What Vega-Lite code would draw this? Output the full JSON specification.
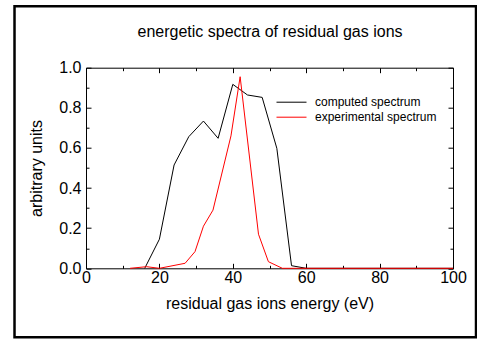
{
  "$schema": "https://vega.github.io/schema/vega-lite/v6.json",
  "width": 367,
  "height": 200.6,
  "autosize": {"type": "none"},
  "padding": {"left": 86, "top": 67.7, "right": 24, "bottom": 72.7},
  "background": "white",
  "config": {
    "view": {"stroke": "black", "strokeWidth": 1},
    "axis": {
      "grid": false,
      "domain": false,
      "tickColor": "black",
      "tickWidth": 1,
      "labelFont": "Liberation Sans",
      "labelFontSize": 16,
      "labelColor": "black",
      "titleFont": "Liberation Sans",
      "titleFontSize": 16,
      "titleFontWeight": "normal",
      "titleColor": "black"
    }
  },
  "data": {
    "values": [
      {"energy": 16, "value": 0, "series": "computed spectrum"},
      {"energy": 20, "value": 0.145, "series": "computed spectrum"},
      {"energy": 24, "value": 0.515, "series": "computed spectrum"},
      {"energy": 28, "value": 0.656, "series": "computed spectrum"},
      {"energy": 32, "value": 0.734, "series": "computed spectrum"},
      {"energy": 36, "value": 0.648, "series": "computed spectrum"},
      {"energy": 40, "value": 0.917, "series": "computed spectrum"},
      {"energy": 44, "value": 0.864, "series": "computed spectrum"},
      {"energy": 48, "value": 0.852, "series": "computed spectrum"},
      {"energy": 52, "value": 0.598, "series": "computed spectrum"},
      {"energy": 56, "value": 0.013, "series": "computed spectrum"},
      {"energy": 60, "value": 0, "series": "computed spectrum"},
      {"energy": 100, "value": 0, "series": "computed spectrum"},
      {"energy": 12, "value": 0, "series": "experimental spectrum"},
      {"energy": 16.5, "value": 0.008, "series": "experimental spectrum"},
      {"energy": 20, "value": 0, "series": "experimental spectrum"},
      {"energy": 27, "value": 0.025, "series": "experimental spectrum"},
      {"energy": 29.7, "value": 0.083, "series": "experimental spectrum"},
      {"energy": 32, "value": 0.21, "series": "experimental spectrum"},
      {"energy": 34.6, "value": 0.29, "series": "experimental spectrum"},
      {"energy": 39.5, "value": 0.66, "series": "experimental spectrum"},
      {"energy": 42, "value": 0.955, "series": "experimental spectrum"},
      {"energy": 47, "value": 0.17, "series": "experimental spectrum"},
      {"energy": 49.7, "value": 0.033, "series": "experimental spectrum"},
      {"energy": 53.5, "value": 0, "series": "experimental spectrum"},
      {"energy": 100, "value": 0, "series": "experimental spectrum"}
    ]
  },
  "layer": [
    {
      "transform": [{"filter": "datum.series === 'computed spectrum'"}],
      "mark": {"type": "line", "strokeWidth": 1, "clip": false},
      "encoding": {
        "x": {
          "field": "energy", "type": "quantitative",
          "scale": {"domain": [0, 100], "nice": false, "zero": false},
          "axis": {
            "orient": "bottom",
            "values": [0, 10, 20, 30, 40, 50, 60, 70, 80, 90, 100],
            "labelExpr": "datum.value % 20 === 0 ? datum.label : ''",
            "tickSize": {"condition": {"test": "datum.value % 20 === 0", "value": -5}, "value": -3},
            "labelBaseline": "alphabetic",
            "labelPadding": 19,
            "labelFlush": false,
            "title": "residual gas ions energy (eV)",
            "titleBaseline": "alphabetic",
            "titleY": 40
          }
        },
        "y": {
          "field": "value", "type": "quantitative",
          "scale": {"domain": [0, 1], "nice": false},
          "axis": {
            "orient": "left",
            "values": [0, 0.1, 0.2, 0.3, 0.4, 0.5, 0.6, 0.7, 0.8, 0.9, 1.0],
            "labelExpr": "round(datum.value * 10) % 2 === 0 ? format(datum.value, '.1f') : ''",
            "tickSize": {"condition": {"test": "round(datum.value * 10) % 2 === 0", "value": -5}, "value": -3},
            "labelPadding": 10,
            "labelFlush": false,
            "title": "arbitrary units",
            "titleBaseline": "alphabetic",
            "titleX": -45
          }
        },
        "color": {
          "field": "series", "type": "nominal",
          "scale": {"domain": ["computed spectrum", "experimental spectrum"], "range": ["#000000", "#ff0000"]},
          "legend": {
            "orient": "none", "legendX": 190, "legendY": 28, "title": null,
            "symbolType": "stroke", "symbolSize": 900, "symbolStrokeWidth": 1,
            "labelFont": "Liberation Sans", "labelFontSize": 12, "labelColor": "black",
            "labelOffset": 8, "rowPadding": 2, "clipHeight": 13
          }
        }
      }
    },
    {
      "transform": [{"filter": "datum.series === 'experimental spectrum'"}],
      "mark": {"type": "line", "strokeWidth": 1, "clip": false},
      "encoding": {
        "x": {
          "field": "energy", "type": "quantitative",
          "axis": {
            "orient": "top",
            "values": [0, 10, 20, 30, 40, 50, 60, 70, 80, 90, 100],
            "labels": false,
            "tickSize": {"condition": {"test": "datum.value % 20 === 0", "value": -5}, "value": -3},
            "title": "energetic spectra of residual gas ions",
            "titleBaseline": "alphabetic",
            "titleY": -31
          }
        },
        "y": {
          "field": "value", "type": "quantitative",
          "axis": {
            "orient": "right",
            "values": [0, 0.1, 0.2, 0.3, 0.4, 0.5, 0.6, 0.7, 0.8, 0.9, 1.0],
            "labels": false,
            "tickSize": {"condition": {"test": "round(datum.value * 10) % 2 === 0", "value": -5}, "value": -3},
            "title": null
          }
        },
        "color": {"field": "series", "type": "nominal"}
      }
    },
    {
      "data": {"values": [{"frame": "border"}]},
      "mark": {"type": "rect", "fill": null, "fillOpacity": 0, "stroke": "black", "strokeWidth": 2.5, "clip": false},
      "encoding": {
        "x": {"datum": -19.48, "type": "quantitative", "axis": null},
        "x2": {"datum": 106.27},
        "y": {"datum": 1.3066, "type": "quantitative", "axis": null},
        "y2": {"datum": -0.344}
      }
    }
  ],
  "resolve": {"axis": {"x": "independent", "y": "independent"}}
}
